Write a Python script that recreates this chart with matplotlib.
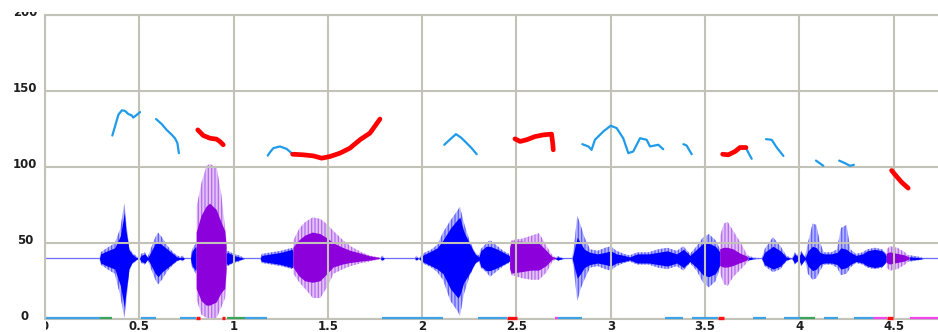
import numpy as np
import matplotlib
matplotlib.use("Agg")
import matplotlib.pyplot as plt
from matplotlib.patches import Rectangle
from matplotlib.transforms import blended_transform_factory

nan = np.nan

# ---------------- data ----------------
x_ticks = [0, 0.5, 1, 1.5, 2, 2.5, 3, 3.5, 4, 4.5]
x_tick_labels = ["0", "0.5", "1", "1.5", "2", "2.5", "3", "3.5", "4", "4.5"]
y_ticks = [0, 50, 100, 150, 200]
y_tick_labels = ["0", "50", "100", "150", "200"]

# waveform envelope (unvoiced / blue): time, outer hi, outer lo, core hi, core lo
wave_t = [0.000, 0.288, 0.295, 0.330, 0.370, 0.400, 0.415, 0.420, 0.430, 0.445, 0.460, 0.480,
          0.500, 0.510, 0.530, 0.545, 0.560, 0.585, 0.600, 0.620, 0.650, 0.680, 0.700, 0.720,
          0.730, 0.740, 0.772, 0.780, 0.800, 0.810, 0.955, 0.970, 1.000, 1.030, 1.060, 1.140,
          1.150, 1.250, 1.310, 1.330, 1.776, 1.790, 1.800, 1.960, 1.970, 1.980, 2.000, 2.050,
          2.080, 2.110, 2.150, 2.190, 2.200, 2.220, 2.250, 2.280, 2.300, 2.310, 2.340, 2.360,
          2.400, 2.430, 2.460, 2.470, 2.700, 2.720, 2.750, 2.795, 2.805, 2.822, 2.840, 2.860,
          2.890, 2.930, 2.970, 3.000, 3.030, 3.070, 3.100, 3.140, 3.200, 3.250, 3.300, 3.350,
          3.385, 3.420, 3.455, 3.490, 3.520, 3.555, 3.580, 3.590, 3.725, 3.760, 3.800, 3.815,
          3.860, 3.900, 3.930, 3.960, 3.975, 3.995, 4.010, 4.030, 4.045, 4.070, 4.090, 4.110,
          4.130, 4.170, 4.200, 4.220, 4.250, 4.270, 4.300, 4.335, 4.360, 4.400, 4.440, 4.460,
          4.590, 4.640, 4.660, 4.735]
wave_hi = [40, 40, 44, 47, 50, 60, 72, 76, 65, 48, 44, 42,
           40, 43, 44, 41, 46, 54, 57, 54, 48, 44, 42, 41,
           42, 40, 40, 46, 50, 44, 44, 45, 43, 42, 40, 40,
           43, 45, 47, 42, 40, 42, 40, 40, 42, 40, 43, 46,
           49, 57, 65, 72, 74, 64, 52, 44, 42, 46, 50, 52,
           48, 45, 43, 41, 40, 41.5, 40, 40, 48, 68, 62, 54,
           46, 45, 47, 48, 45, 43, 42, 44, 44, 46, 47, 45,
           48, 43, 48, 54, 56, 52, 46, 42, 42, 40.5, 40, 46,
           54, 48, 42, 40, 44, 42, 45, 41, 50, 63, 62, 50,
           44, 44, 46, 60, 62, 46, 43, 44, 46, 47, 46, 43,
           42, 41, 40, 40]
wave_lo = [40, 40, 36, 33, 30, 15, 5, 1, 10, 30, 36, 38,
           40, 37, 36, 39, 34, 26, 23, 26, 32, 36, 38, 39,
           38, 40, 40, 34, 30, 36, 36, 35, 37, 38, 40, 40,
           37, 35, 33, 38, 40, 38, 40, 40, 38, 40, 37, 34,
           31, 26, 12, 5, 2, 16, 28, 36, 38, 34, 31, 28,
           32, 35, 37, 39, 40, 38.5, 40, 40, 32, 12, 20, 26,
           34, 35, 33, 32, 35, 37, 38, 36, 36, 34, 33, 35,
           32, 37, 32, 24, 21, 25, 34, 38, 38, 39.5, 40, 35,
           31, 33, 38, 40, 36, 38, 35, 39, 30, 26, 27, 32,
           36, 36, 34, 29, 30, 34, 37, 36, 34, 33, 34, 37,
           38, 39, 40, 40]
core_hi = [40, 40, 43, 45, 47, 55, 66, 70, 58, 46, 43, 41,
           40, 42, 43, 40.5, 44, 50, 51, 49, 46, 43, 41, 40.5,
           41, 40, 40, 45, 48, 43, 43, 44, 42, 41, 40, 40,
           42, 44, 46, 41, 40, 41, 40, 40, 41, 40, 42, 45,
           47, 52, 60, 66, 67, 58, 50, 43, 41, 45, 48, 48,
           46, 44, 42, 40.5, 40, 41, 40, 40, 45, 54, 50, 46,
           44, 43, 44, 45, 43, 42, 41, 43, 43, 44, 45, 43,
           46, 42, 46, 50, 50, 48, 44, 41, 41, 40.2, 40, 44,
           48, 45, 41, 40, 43, 41, 44, 40.5, 45, 48, 47, 44,
           43, 43, 44, 47, 46, 44, 42, 43, 45, 46, 45, 42,
           41, 40.5, 40, 40]
core_lo = [40, 40, 37, 35, 33, 22, 12, 8, 18, 33, 37, 39,
           40, 38, 37, 39.5, 36, 30, 28, 31, 34, 37, 39, 39.5,
           39, 40, 40, 35, 32, 37, 37, 36, 38, 39, 40, 40,
           38, 36, 34, 39, 40, 39, 40, 40, 39, 40, 38, 35,
           33, 30, 20, 14, 16, 24, 30, 37, 39, 35, 32, 32,
           34, 36, 38, 39.5, 40, 39, 40, 40, 35, 27, 30, 34,
           36, 37, 36, 35, 37, 38, 39, 37, 37, 36, 35, 37,
           34, 38, 34, 29, 28, 30, 36, 39, 39, 39.8, 40, 36,
           33, 35, 39, 40, 37, 39, 36, 39.5, 35, 32, 33, 36,
           37, 37, 36, 33, 34, 36, 38, 37, 35, 34, 35, 38,
           39, 39.5, 40, 40]

# voiced waveform (purple), NaN separates segments
voiced_t = [0.804, 0.830, 0.857, 0.875, 0.910, 0.935, 0.955, 0.963, nan,
            1.317, 1.350, 1.380, 1.420, 1.460, 1.500, 1.530, 1.580, 1.620, 1.680, 1.720, 1.776, nan,
            2.466, 2.475, 2.530, 2.580, 2.620, 2.660, 2.690, 2.710, nan,
            3.580, 3.600, 3.620, 3.650, 3.690, 3.720, 3.730, nan,
            4.463, 4.480, 4.520, 4.560, 4.586]
voiced_hi = [74, 90, 101, 102, 100, 82, 60, 52, nan,
             52, 60, 64, 67, 66, 62, 58, 52, 48, 44, 42, 40.5, nan,
             48, 52, 53, 55, 56.6, 48, 42, 40.5, nan,
             55, 63, 64, 58, 50, 43, 41, nan,
             46, 48, 47, 44, 41]
voiced_lo = [13, 3, 1, 0, 1, 8, 14, 28, nan,
             30, 24, 20, 14, 14, 22, 30, 33, 35, 37, 38, 39.5, nan,
             32, 29, 27, 26, 26, 31, 38, 39.5, nan,
             30, 23, 22, 28, 33, 37, 39, nan,
             34, 32, 33, 36, 39]
vcore_hi = [57, 68, 74, 76, 72, 64, 58, 48, nan,
            47, 52, 55, 57, 56, 53, 50, 47, 45, 43, 41.5, 40.3, nan,
            47, 51, 51, 50, 50, 45, 41, 40.2, nan,
            46, 47, 47, 46, 43, 41.5, 40.5, nan,
            43, 44, 43, 42, 40.5]
vcore_lo = [20, 12, 9, 9, 11, 17, 20, 32, nan,
            34, 28, 25, 24, 25, 30, 34, 36, 37, 38, 38.5, 39.7, nan,
            33, 30, 31, 32, 32, 35, 39, 39.8, nan,
            35, 34, 34, 35, 37, 38.5, 39.5, nan,
            37, 36, 37, 38, 39.5]

# pitch track, blue segments (NaN separates)
pitch_blue_t = [0.357, 0.371, 0.389, 0.407, 0.424, 0.442, 0.460, 0.468, 0.483, 0.504, nan,
                0.589, 0.619, 0.645, 0.672, 0.689, 0.702, 0.710, nan,
                1.181, 1.193, 1.211, 1.246, 1.281, 1.308, nan,
                2.117, 2.150, 2.179, 2.205, 2.227, 2.262, 2.289, nan,
                2.849, 2.881, 2.898, 2.916, 2.960, 2.999, 3.031, 3.066, 3.093, 3.119, 3.155,
                3.190, 3.208, 3.252, 3.278, nan,
                3.385, 3.402, 3.429, nan,
                3.717, 3.732, 3.747, nan,
                3.823, 3.853, 3.880, 3.915, nan,
                4.088, 4.127, nan,
                4.211, 4.242, 4.268, 4.289]
pitch_blue_f = [120.8, 126.7, 134.4, 137.3, 137.0, 134.9, 134.0, 132.6, 134.0, 136.2, nan,
                131.6, 128.3, 124.5, 121.3, 119.0, 115.8, 109.2, nan,
                107.6, 109.8, 112.5, 113.6, 112.0, 109.2, nan,
                114.7, 118.5, 121.7, 119.5, 116.9, 112.5, 108.5, nan,
                115.1, 113.6, 111.4, 118.0, 123.4, 127.2, 125.7, 119.0, 109.2, 110.3, 119.0,
                118.0, 113.6, 114.7, 111.8, nan,
                115.1, 114.2, 108.5, nan,
                112.5, 109.0, 105.5, nan,
                118.4, 118.0, 112.9, 107.4, nan,
                104.3, 100.9, nan,
                104.3, 102.6, 100.9, 101.5]

# pitch track, red segments
pitch_red_t = [0.810, 0.822, 0.839, 0.875, 0.910, 0.928, 0.945, nan,
               1.313, 1.370, 1.423, 1.467, 1.511, 1.564, 1.617, 1.670, 1.723, 1.767, 1.776, nan,
               2.492, 2.519, 2.554, 2.598, 2.642, 2.686, 2.692, 2.695, nan,
               3.593, 3.623, 3.659, 3.685, 3.717, nan,
               4.489, 4.516, 4.542, 4.577]
pitch_red_f = [124.5, 123.0, 120.8, 119.0, 118.4, 116.8, 114.7, nan,
               108.5, 108.1, 107.4, 105.9, 107.0, 109.2, 112.5, 118.0, 122.4, 130.0, 131.6, nan,
               118.6, 116.9, 118.0, 120.1, 121.2, 121.7, 115.8, 111.4, nan,
               108.5, 108.1, 110.3, 112.9, 112.9, nan,
               97.8, 93.8, 90.1, 86.2]

# segment strip along the bottom (start, end, kind)
band_start = [0.004, 0.292, 0.507, 0.716, 0.800, 0.940, 0.963, 1.060, 1.785, 2.297, 2.448,
              2.704, 2.720, 3.287, 3.432, 3.570, 3.752, 3.920, 4.003, 4.132, 4.291, 4.392,
              4.463, 4.586]
band_end = [0.292, 0.354, 0.589, 0.800, 0.820, 0.955, 1.060, 1.176, 2.112, 2.448, 2.501,
            2.720, 2.846, 3.384, 3.570, 3.602, 3.823, 4.003, 4.083, 4.206, 4.392, 4.463,
            4.495, 4.735]
band_kind = ["u", "g", "u", "u", "r", "r", "g", "u", "u", "u", "r",
             "m", "u", "u", "u", "r", "u", "u", "g", "u", "u", "m",
             "r", "m"]

# ---------------- drawing ----------------
W, H = 938, 332
fig = plt.figure(figsize=(W / 100, H / 100), dpi=100)
ax = fig.add_axes([45 / W, (H - 319.3) / H, (W - 45) / W, (319.3 - 15) / H])
ax.set_xlim(0, 4.735)
ax.set_ylim(0, 200)

grid_c = "#c3c2b9"
ax.spines["right"].set_visible(False)
for s in ["left", "bottom", "top"]:
    ax.spines[s].set_color(grid_c)
    ax.spines[s].set_linewidth(1.5)
    ax.spines[s].set_zorder(2.5)

ax.set_xticks(x_ticks)
ax.set_yticks(y_ticks)
ax.set_xticklabels([])
ax.set_yticklabels([])
ax.tick_params(length=0)
ax.grid(True, color=grid_c, linewidth=1.5)
ax.set_axisbelow(False)
for gl in ax.get_xgridlines() + ax.get_ygridlines():
    gl.set_zorder(2.5)

# baseline
ax.axhline(40, color="#6b6bff", linewidth=0.9, zorder=1)

plt.rcParams["hatch.linewidth"] = 0.9
wt = np.array(wave_t)
ax.fill_between(wt, wave_lo, wave_hi, facecolor="#b4b4ff", edgecolor="#5c5cff",
                hatch="|||||", linewidth=0, zorder=1.2)
ax.fill_between(wt, core_lo, core_hi, color="#0000ff", linewidth=0, zorder=1.3)
vt = np.array(voiced_t)
ax.fill_between(vt, np.array(voiced_lo), np.array(voiced_hi), facecolor="#e2c2f8",
                edgecolor="#b46cee", hatch="|||||", linewidth=0, zorder=1.4)
ax.fill_between(vt, np.array(vcore_lo), np.array(vcore_hi), color="#8c00dc",
                linewidth=0, zorder=1.5)

# pitch
ax.plot(pitch_blue_t, pitch_blue_f, color="#1f9be9", linewidth=1.6,
        solid_capstyle="round", solid_joinstyle="round", zorder=3)
ax.plot(pitch_red_t, pitch_red_f, color="#ff0000", linewidth=3.4,
        solid_capstyle="round", solid_joinstyle="round", zorder=3.1)

band_colors = {"u": "#3ba3e6", "g": "#3aa35c", "r": "#ff1010", "m": "#f046f0"}
for s, e, k in zip(band_start, band_end, band_kind):
    ax.plot([s, e], [0.9, 0.9], color=band_colors[k], linewidth=1.6 if k != "r" else 2.4,
            solid_capstyle="butt", zorder=3, clip_on=False)

# tick labels as text
fam = ["Liberation Sans Narrow", "DejaVu Sans"]
lab_kw = dict(fontsize=8.5, fontweight="bold", family=fam, color="#1e1e1e")
ytr = blended_transform_factory(fig.transFigure, ax.transData)
for v, lab in zip(y_ticks, y_tick_labels):
    ax.text(25 / W, v + 1.8, lab, transform=ytr, ha="center", va="center",
            clip_on=False, **lab_kw)
xtr = blended_transform_factory(ax.transData, fig.transFigure)
for v, lab in zip(x_ticks, x_tick_labels):
    ax.text(v, (H - 329.8) / H, lab, transform=xtr, ha="center", va="baseline",
            clip_on=False, **lab_kw)

# the source image is cropped: top of "200" and left of the x "0" are cut away
fig.add_artist(Rectangle((0, (H - 11.5) / H), 1, 11.5 / H, transform=fig.transFigure,
                         facecolor="white", edgecolor="none", zorder=20))
fig.add_artist(Rectangle((0, 0), 45.5 / W, 11 / H, transform=fig.transFigure,
                         facecolor="white", edgecolor="none", zorder=20))

fig.savefig("out.png", dpi=100)
